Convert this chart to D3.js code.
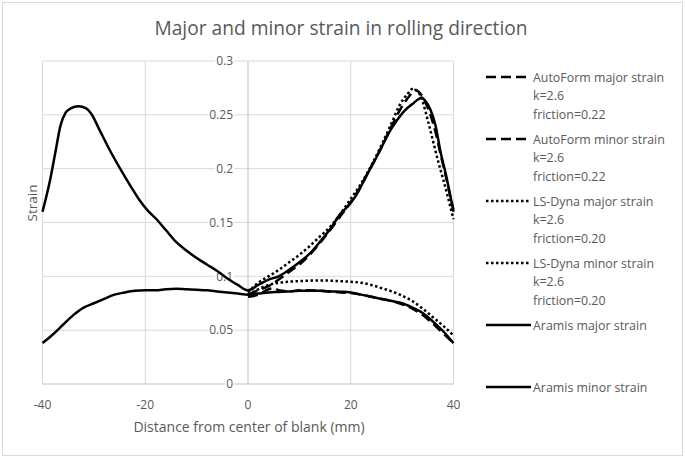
<!DOCTYPE html>
<html>
<head>
<meta charset="utf-8">
<script src="https://cdn.jsdelivr.net/npm/d3@7"></script>
<style>
  body { margin: 0; background: #fff; }
  text { font-family: "Open Sans", sans-serif; fill: #595959; }
</style>
</head>
<body>
<svg id="chart"></svg>
<script>
let width = 685
let height = 458

// data
let aramisX = [-40, -38.5, -37.5, -36.5, -35.5, -34.5, -33, -31.5, -30.5, -29, -27, -25, -23, -21, -19.5, -17.8, -16, -14, -12, -10, -8, -6, -4, -2, 0,
  2, 4, 6, 8, 10, 12, 14, 16, 18, 20, 21.5, 23, 24.5, 26, 27.5, 29, 30.5, 32, 33, 33.8, 34.5, 35.5, 36.5, 37.5, 38.5, 39.5, 40]
let aramisMajor = [0.160, 0.190, 0.215, 0.240, 0.252, 0.256, 0.258, 0.256, 0.251, 0.237, 0.218, 0.201, 0.185, 0.170, 0.161, 0.153, 0.143, 0.132, 0.124, 0.117, 0.111, 0.105, 0.098, 0.092, 0.087,
  0.092, 0.097, 0.100, 0.106, 0.113, 0.121, 0.132, 0.144, 0.158, 0.168, 0.179, 0.193, 0.206, 0.220, 0.234, 0.245, 0.254, 0.260, 0.264, 0.266, 0.263, 0.255, 0.240, 0.215, 0.195, 0.172, 0.160]

let minorX = [-40, -38, -36, -34, -32, -30, -28, -26, -24, -22, -20, -18, -16, -14, -12, -10, -8, -6, -4, -2, 0,
  2, 4, 6, 8, 10, 12, 14, 16, 18, 20, 22, 24, 26, 28, 30, 32, 34, 36, 38, 40]
let aramisMinor = [0.038, 0.046, 0.055, 0.064, 0.071, 0.075, 0.079, 0.083, 0.085, 0.0865, 0.087, 0.087, 0.088, 0.0885, 0.088, 0.0875, 0.087, 0.086, 0.085, 0.084, 0.083,
  0.084, 0.085, 0.0855, 0.086, 0.0865, 0.0867, 0.0865, 0.086, 0.0857, 0.085, 0.083, 0.081, 0.079, 0.077, 0.075, 0.071, 0.066, 0.058, 0.049, 0.038]

let autoMajorX = [0, 2, 4, 6, 8, 10, 12, 14, 16, 18, 20, 22, 24, 26, 28, 30, 31.5, 32.5, 33.5, 34.5, 35.5, 36.5, 37.5, 38.5, 39.5, 40]
let autoMajor = [0.083, 0.087, 0.091, 0.097, 0.104, 0.111, 0.120, 0.131, 0.143, 0.156, 0.169, 0.184, 0.202, 0.220, 0.240, 0.258, 0.268, 0.273, 0.270, 0.262, 0.250, 0.234, 0.213, 0.193, 0.172, 0.162]

let autoMinorX = [0, 2, 4, 5, 6, 8, 10, 12, 14, 16, 18, 20, 22, 24, 26, 28, 30, 32, 34, 36, 38, 40]
let autoMinor = [0.081, 0.083, 0.088, 0.089, 0.087, 0.086, 0.087, 0.087, 0.0867, 0.086, 0.085, 0.0845, 0.083, 0.081, 0.079, 0.077, 0.074, 0.070, 0.064, 0.056, 0.047, 0.038]

let dynaMajorX = [0, 2, 4, 6, 8, 10, 12, 14, 16, 18, 20, 22, 24, 26, 28, 29.5, 31, 32, 33, 34, 35, 36, 37, 38, 39, 40]
let dynaMajor = [0.085, 0.094, 0.100, 0.106, 0.113, 0.120, 0.128, 0.137, 0.146, 0.158, 0.172, 0.186, 0.203, 0.222, 0.243, 0.259, 0.269, 0.274, 0.272, 0.262, 0.245, 0.226, 0.207, 0.190, 0.172, 0.153]

let dynaMinorX = [0, 2, 4, 6, 8, 10, 12, 14, 16, 18, 20, 22, 24, 26, 28, 30, 32, 34, 36, 38, 40]
let dynaMinor = [0.083, 0.088, 0.092, 0.094, 0.095, 0.0955, 0.096, 0.0962, 0.096, 0.0955, 0.095, 0.094, 0.092, 0.089, 0.086, 0.082, 0.077, 0.070, 0.062, 0.054, 0.045]

let xTicks = [-40, -20, 0, 20, 40]
let yTicks = [0, 0.05, 0.1, 0.15, 0.2, 0.25, 0.3]

let legendNames = [
  ["AutoForm major strain", "k=2.6", "friction=0.22"],
  ["AutoForm minor strain", "k=2.6", "friction=0.22"],
  ["LS-Dyna major strain", "k=2.6", "friction=0.20"],
  ["LS-Dyna minor strain", "k=2.6", "friction=0.20"],
  ["Aramis major strain"],
  ["Aramis minor strain"]
]

let series = [
  {xs: autoMajorX, ys: autoMajor, dash: "10,5"},
  {xs: autoMinorX, ys: autoMinor, dash: "10,5"},
  {xs: dynaMajorX, ys: dynaMajor, dash: "2.5,2.5"},
  {xs: dynaMinorX, ys: dynaMinor, dash: "2.5,2.5"},
  {xs: aramisX, ys: aramisMajor, dash: null},
  {xs: minorX, ys: aramisMinor, dash: null}
]

let svg = d3.select('#chart')
  .attr('width', width)
  .attr('height', height)

// outer chart border
svg.append('rect')
  .attr('x', 2.5).attr('y', 2.5)
  .attr('width', width - 5).attr('height', height - 5)
  .attr('fill', '#fff')
  .attr('stroke', '#d9d9d9')

let x = d3.scaleLinear().domain([-40, 40]).range([42.5, 453.5])
let y = d3.scaleLinear().domain([0, 0.3]).range([384, 61])

// gridlines
svg.append('g')
  .selectAll('line')
  .data(yTicks.filter(d => d > 0))
  .join('line')
  .attr('x1', x(-40)).attr('x2', x(40))
  .attr('y1', d => y(d)).attr('y2', d => y(d))
  .attr('stroke', '#d9d9d9')

svg.append('g')
  .selectAll('line')
  .data(xTicks.filter(d => d != 0))
  .join('line')
  .attr('x1', d => x(d)).attr('x2', d => x(d))
  .attr('y1', y(0)).attr('y2', y(0.3))
  .attr('stroke', '#d9d9d9')

// axis lines through zero
svg.append('line')
  .attr('x1', x(0)).attr('x2', x(0))
  .attr('y1', y(0)).attr('y2', y(0.3))
  .attr('stroke', '#bfbfbf')
svg.append('line')
  .attr('x1', x(-40)).attr('x2', x(40))
  .attr('y1', y(0)).attr('y2', y(0))
  .attr('stroke', '#bfbfbf')

// y tick labels sit on the zero line with white boxes
let yLab = svg.append('g')
  .selectAll('g')
  .data(yTicks)
  .join('g')
  .attr('transform', d => `translate(${x(0) - 15},${y(d)})`)
yLab.append('text')
  .attr('text-anchor', 'end')
  .attr('dy', '0.35em')
  .attr('font-size', 12)
  .text(d => d3.format('')(d))
yLab.each(function() {
  let g = d3.select(this)
  let bb = g.select('text').node().getBBox()
  g.insert('rect', 'text')
    .attr('x', bb.x - 1).attr('y', bb.y + 2)
    .attr('width', bb.width + 2).attr('height', bb.height - 4)
    .attr('fill', '#fff')
})

// x tick labels
svg.append('g')
  .selectAll('text')
  .data(xTicks)
  .join('text')
  .attr('x', d => x(d))
  .attr('y', 409)
  .attr('text-anchor', 'middle')
  .attr('font-size', 12)
  .text(d => d)

// lines
let line = d3.line()
  .x(d => x(d[0]))
  .y(d => y(d[1]))
  .curve(d3.curveMonotoneX)

svg.append('g')
  .selectAll('path')
  .data(series)
  .join('path')
  .attr('d', s => line(s.xs.map((v, i) => [v, s.ys[i]])))
  .attr('fill', 'none')
  .attr('stroke', '#000')
  .attr('stroke-width', 2.5)
  .attr('stroke-linejoin', 'round')
  .attr('stroke-dasharray', s => s.dash)

// titles
svg.append('text')
  .attr('x', 341).attr('y', 35)
  .attr('text-anchor', 'middle')
  .attr('font-size', 19.2)
  .text('Major and minor strain in rolling direction')

svg.append('text')
  .attr('x', 249).attr('y', 432)
  .attr('text-anchor', 'middle')
  .attr('font-size', 14)
  .text('Distance from center of blank (mm)')

svg.append('text')
  .attr('transform', 'translate(37,203) rotate(-90)')
  .attr('text-anchor', 'middle')
  .attr('font-size', 13.5)
  .text('Strain')

// legend
let legendY = [77, 139, 201, 263, 325, 387]
let leg = svg.append('g')
  .selectAll('g')
  .data(series)
  .join('g')
  .attr('transform', (d, i) => `translate(486,${legendY[i]})`)
leg.append('line')
  .attr('x1', 0).attr('x2', 45)
  .attr('stroke', '#000')
  .attr('stroke-width', 2.5)
  .attr('stroke-dasharray', s => s.dash)
leg.append('text')
  .attr('x', 47)
  .attr('font-size', 12.4)
  .selectAll('tspan')
  .data((d, i) => legendNames[i])
  .join('tspan')
  .attr('x', 47)
  .attr('y', (d, j) => 4.5 + j * 18.5)
  .text(d => d)
</script>
</body>
</html>
